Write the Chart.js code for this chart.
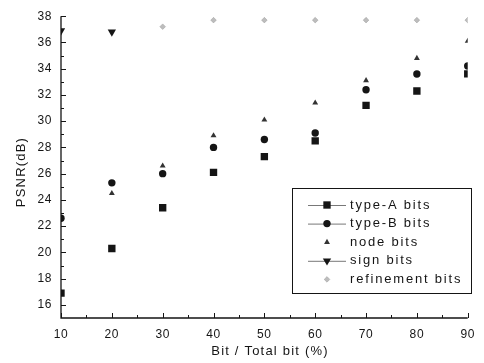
<!DOCTYPE html>
<html>
<head>
<meta charset="utf-8">
<script src="https://cdn.jsdelivr.net/npm/chart.js@4.4.1/dist/chart.umd.min.js"></script>
<style>
html,body{margin:0;padding:0;background:#fff;}
#wrap{width:484px;height:363px;}
</style>
</head>
<body>
<div id="wrap"><canvas id="c" width="484" height="363"></canvas></div>
<script>
const xValues = [10, 20, 30, 40, 50, 60, 70, 80, 90];
const typeABits = [16.9, 20.3, 23.4, 26.1, 27.3, 28.5, 31.2, 32.3, 33.6];
const typeBBits = [22.6, 25.3, 26.0, 28.0, 28.6, 29.1, 32.4, 33.6, 34.2];
const nodeBits = [null, 24.5, 26.6, 28.9, 30.1, 31.4, 33.1, 34.8, 36.1];
const signBits = [36.9, 36.8, null, null, null, null, null, null, null];
const refinementBits = [null, null, 37.2, 37.7, 37.7, 37.7, 37.7, 37.7, 37.7];
const xTickLabels = [10, 20, 30, 40, 50, 60, 70, 80, 90];
const yTickLabels = [16, 18, 20, 22, 24, 26, 28, 30, 32, 34, 36, 38];
const seriesLabels = ['type-A bits', 'type-B bits', 'node bits', 'sign bits', 'refinement bits'];
const xTitle = 'Bit / Total bit (%)';
const yTitle = 'PSNR(dB)';

function pts(arr) {
  return xValues.map((x, i) => ({x: x, y: arr[i]})).filter(p => p.y !== null);
}

const FONT = '"Liberation Sans", Arial, Helvetica, sans-serif';
const INK = '#151515';

const datasets = [
  {label: seriesLabels[0], data: pts(typeABits), pointStyle: 'rect', pointRadius: 5.2, backgroundColor: INK, borderColor: INK, borderWidth: 0, legendLine: true},
  {label: seriesLabels[1], data: pts(typeBBits), pointStyle: 'circle', pointRadius: 3.7, backgroundColor: INK, borderColor: INK, borderWidth: 0, legendLine: true},
  {label: seriesLabels[2], data: pts(nodeBits), pointStyle: 'triangle', pointRadius: 3.4, backgroundColor: '#333', borderColor: '#333', borderWidth: 0, legendLine: false},
  {label: seriesLabels[3], data: pts(signBits), pointStyle: 'triangle', pointRotation: 180, pointRadius: 4.8, backgroundColor: INK, borderColor: INK, borderWidth: 0, legendLine: true},
  {label: seriesLabels[4], data: pts(refinementBits), pointStyle: 'rectRot', pointRadius: 2.8, backgroundColor: '#bdbdbd', borderColor: '#9a9a9a', borderWidth: 0.5, legendLine: false}
];

function drawMarker(ctx, ds, x, y) {
  ctx.save();
  ctx.fillStyle = ds.backgroundColor;
  ctx.strokeStyle = ds.borderColor;
  ctx.lineWidth = ds.borderWidth || 0;
  const r = ds.pointRadius;
  ctx.beginPath();
  if (ds.pointStyle === 'rect') {
    const s = r * Math.SQRT1_2;
    ctx.rect(x - s, y - s, 2 * s, 2 * s);
  } else if (ds.pointStyle === 'circle') {
    ctx.arc(x, y, r, 0, Math.PI * 2);
  } else if (ds.pointStyle === 'triangle') {
    const rot = (ds.pointRotation || 0) * Math.PI / 180;
    for (let k = 0; k < 3; k++) {
      const a = rot - Math.PI / 2 + k * 2 * Math.PI / 3;
      const px = x + Math.cos(a) * r, py = y + Math.sin(a) * r;
      if (k === 0) ctx.moveTo(px, py); else ctx.lineTo(px, py);
    }
    ctx.closePath();
  } else if (ds.pointStyle === 'rectRot') {
    ctx.moveTo(x, y - r); ctx.lineTo(x + r, y); ctx.lineTo(x, y + r); ctx.lineTo(x - r, y); ctx.closePath();
  }
  ctx.fill();
  if (ds.borderWidth) ctx.stroke();
  ctx.restore();
}

const decorPlugin = {
  id: 'decor',
  beforeLayout(chart) { chart.ctx.letterSpacing = '0.6px'; },
  beforeDraw(chart) { chart.ctx.letterSpacing = '0.6px'; },
  afterDraw(chart) {
    const ctx = chart.ctx;
    const xs = chart.scales.x, ys = chart.scales.y;
    const area = chart.chartArea;
    ctx.save();
    ctx.strokeStyle = INK;
    ctx.lineWidth = 1.3;
    // axis lines
    ctx.beginPath();
    ctx.moveTo(area.left, ys.getPixelForValue(38));
    ctx.lineTo(area.left, area.bottom);
    ctx.lineTo(area.right, area.bottom);
    ctx.stroke();
    // y ticks (inward), minor every 1
    ctx.lineWidth = 1;
    for (let v = 16; v <= 38; v++) {
      const py = Math.round(ys.getPixelForValue(v)) + 0.5;
      const len = (v % 2 === 0) ? 5 : 3;
      ctx.beginPath(); ctx.moveTo(area.left, py); ctx.lineTo(area.left + len, py); ctx.stroke();
    }
    // x ticks (inward), minor every 5
    for (let v = 10; v <= 90; v += 5) {
      const px = Math.round(xs.getPixelForValue(v)) + 0.5;
      const len = (v % 10 === 0) ? 5 : 3;
      ctx.beginPath(); ctx.moveTo(px, area.bottom); ctx.lineTo(px, area.bottom - len); ctx.stroke();
    }
    // axis titles
    ctx.fillStyle = INK;
    ctx.font = '13px ' + FONT;
    ctx.letterSpacing = '1.2px';
    ctx.textAlign = 'center';
    ctx.textBaseline = 'middle';
    ctx.fillText(xTitle, 270, 351);
    ctx.save();
    ctx.translate(21, 172);
    ctx.rotate(-Math.PI / 2);
    ctx.fillText(yTitle, 0, 0);
    ctx.restore();

    // legend box
    const bx = 292, by = 188, bw = 179, bh = 105;
    ctx.fillStyle = '#fff';
    ctx.fillRect(bx, by, bw, bh);
    ctx.lineWidth = 1;
    ctx.strokeStyle = INK;
    ctx.strokeRect(bx + 0.5, by + 0.5, bw, bh);
    ctx.font = '13px ' + FONT;
    ctx.letterSpacing = '1.8px';
    ctx.textAlign = 'left';
    ctx.textBaseline = 'middle';
    const rowY0 = 205, rowH = 18.6;
    chart.data.datasets.forEach((ds, i) => {
      const y = rowY0 + i * rowH;
      if (ds.legendLine) {
        ctx.strokeStyle = '#555';
        ctx.lineWidth = 0.8;
        ctx.beginPath(); ctx.moveTo(308, y + 0.5); ctx.lineTo(346, y + 0.5); ctx.stroke();
      }
      drawMarker(ctx, ds, 327, y);
      ctx.fillStyle = INK;
      ctx.fillText(ds.label, 350, y);
    });
    ctx.restore();
  }
};

new Chart(document.getElementById('c'), {
  type: 'scatter',
  data: {datasets: datasets},
  options: {
    responsive: false,
    animation: false,
    devicePixelRatio: 1,
    layout: {padding: {top: 13, right: 12, left: 0, bottom: 0}},
    plugins: {legend: {display: false}, tooltip: {enabled: false}},
    elements: {point: {hoverRadius: 0}},
    scales: {
      x: {
        type: 'linear', min: 10, max: 90,
        afterFit(s) { s.height = 45; },
        afterBuildTicks(s) { s.ticks = xTickLabels.map(v => ({value: v})); },
        grid: {display: false, drawTicks: false},
        border: {display: false},
        ticks: {padding: 9, color: INK, font: {size: 12, family: FONT}, maxRotation: 0, autoSkip: false}
      },
      y: {
        type: 'linear', min: 15, max: 38,
        afterFit(s) { s.width = 61; },
        afterBuildTicks(s) { s.ticks = yTickLabels.map(v => ({value: v})); },
        grid: {display: false, drawTicks: false},
        border: {display: false},
        ticks: {padding: 9, color: INK, font: {size: 12, family: FONT}, autoSkip: false}
      }
    }
  },
  plugins: [decorPlugin]
});
</script>
</body>
</html>
